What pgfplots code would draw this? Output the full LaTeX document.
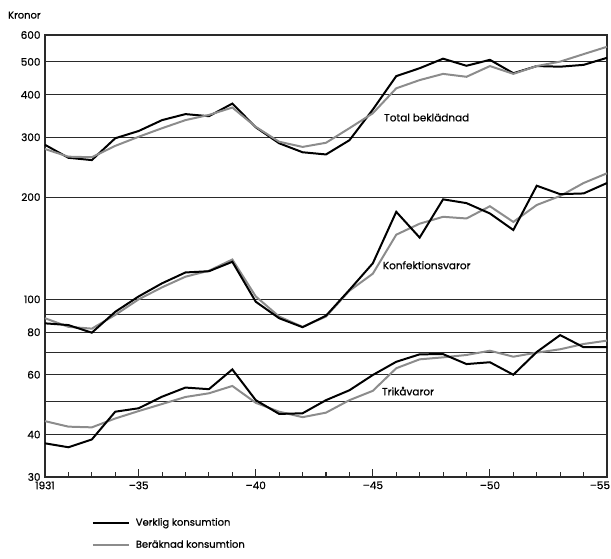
\documentclass[border=0pt]{standalone}
\usepackage{pgfplots}
\pgfplotsset{compat=1.18}
\usepackage{fontspec}
\setmainfont{Poppins}[FakeBold=0.7]
\definecolor{grayline}{HTML}{8C8C8C}
\definecolor{gridc}{HTML}{2A2A2A}
\begin{document}
\begin{tikzpicture}
\begin{axis}[
  scale only axis,
  width=562bp, height=442bp,
  at={(0,0)}, anchor=south west,
  xmin=1931, xmax=1955,
  ymode=log, ymin=30, ymax=600,
  ytick={30,40,50,60,70,80,90,100,200,300,400,500,600},
  yticklabels={30,40,,60,,80,,100,200,300,400,500,600},
  xtick={1931,1935,1940,1945,1950,1955},
  xticklabels={1931,--35,--40,--45,--50,\makebox[6bp][r]{--55}},
  minor xtick={1932,1933,1934,1936,1937,1938,1939,1941,1942,1943,1944,1946,1947,1948,1949,1951,1952,1953,1954},
  xtick pos=bottom, xtick align=inside,
  major tick length=8bp, minor tick length=5bp,
  every tick/.style={gridc, line width=1.1pt},
  ytick style={draw=none},
  yminorticks=false,
  ymajorgrids,
  major grid style={gridc, line width=0.9pt},
  axis line style={gridc, line width=1.3pt},
  tick label style={font=\fontsize{10.5}{12}\selectfont},
  xticklabel style={yshift=-1bp},
  yticklabel style={xshift=-1bp},
  clip=false,
  legend style={at={(0.083,-0.088)}, anchor=north west, draw=none, fill=none,
    font=\fontsize{10}{12}\selectfont, row sep=9bp, column sep=4bp, inner sep=0pt},
  legend cell align=left,
  legend image code/.code={\draw[#1, line width=2pt] (0bp,0bp) -- (36bp,0bp);},
]
% Total beklädnad
\addplot[black, line width=2pt] coordinates {
(1931,285)(1932,261)(1933,257)(1934,298)(1935,313)(1936,337)(1937,351)(1938,346)(1939,377)(1940,321)
(1941,288)(1942,271)(1943,267)(1944,294)(1945,362)(1946,454)(1947,479)(1948,511)(1949,487)(1950,507)
(1951,463)(1952,486)(1953,484)(1954,490)(1955,514)};
\addlegendentry{Verklig konsumtion}
\addplot[grayline, line width=2pt] coordinates {
(1931,277)(1932,263)(1933,262)(1934,283)(1935,301)(1936,319)(1937,337)(1938,349)(1939,367)(1940,322)
(1941,291)(1942,281)(1943,289)(1944,319)(1945,353)(1946,418)(1947,442)(1948,461)(1949,452)(1950,486)
(1951,461)(1952,486)(1953,501)(1954,527)(1955,554)};
\addlegendentry{Beräknad konsumtion}
% Konfektionsvaror
\addplot[grayline, line width=2pt, forget plot] coordinates {
(1931,88)(1932,83)(1933,82)(1934,90)(1935,100)(1936,108.5)(1937,116.6)(1938,121.4)(1939,131)(1940,102)
(1941,89)(1942,83)(1943,89)(1944,106)(1945,119)(1946,155)(1947,167)(1948,175)(1949,173)(1950,188)
(1951,169)(1952,189.6)(1953,201.5)(1954,220)(1955,235)};
\addplot[black, line width=2pt, forget plot] coordinates {
(1931,85)(1932,84)(1933,79.8)(1934,91.9)(1935,102)(1936,111.5)(1937,120)(1938,121)(1939,129)(1940,98.4)
(1941,88)(1942,82.8)(1943,89.5)(1944,106.6)(1945,127.7)(1946,181)(1947,152)(1948,197)(1949,192)(1950,179)
(1951,160)(1952,216)(1953,204)(1954,205)(1955,220)};
% Trikåvaror
\addplot[grayline, line width=2pt, forget plot] coordinates {
(1931,43.8)(1932,42.2)(1933,42)(1934,44.6)(1935,46.9)(1936,49.2)(1937,51.6)(1938,52.9)(1939,55.6)(1940,49.6)
(1941,46.7)(1942,45)(1943,46.4)(1944,50.5)(1945,53.8)(1946,62.7)(1947,66.6)(1948,67.5)(1949,68.6)(1950,70.6)
(1951,67.8)(1952,69.7)(1953,71.3)(1954,73.9)(1955,75.6)};
\addplot[black, line width=2pt, forget plot] coordinates {
(1931,37.7)(1932,36.7)(1933,38.7)(1934,46.7)(1935,47.8)(1936,51.7)(1937,55)(1938,54.4)(1939,62.2)(1940,50.5)
(1941,46)(1942,46.2)(1943,50.5)(1944,54)(1945,59.9)(1946,65.5)(1947,68.9)(1948,69)(1949,64.5)(1950,65.3)
(1951,60)(1952,70)(1953,78.5)(1954,72.3)(1955,72.3)};
\node[font=\fontsize{10.5}{12}\selectfont] at (axis cs:1947.3,343) {Total beklädnad};
\node[font=\fontsize{10.5}{12}\selectfont] at (axis cs:1947.3,126) {Konfektionsvaror};
\node[font=\fontsize{10.5}{12}\selectfont] at (axis cs:1946.5,53.7) {Trikåvaror};
\node[font=\fontsize{10}{12}\selectfont, anchor=west, inner sep=0pt] at (rel axis cs:-0.066,1.045) {Kronor};
\end{axis}
\pgfresetboundingbox
\path[use as bounding box] (-45bp,-82bp) rectangle (566bp,477bp);
\end{tikzpicture}
\end{document}
